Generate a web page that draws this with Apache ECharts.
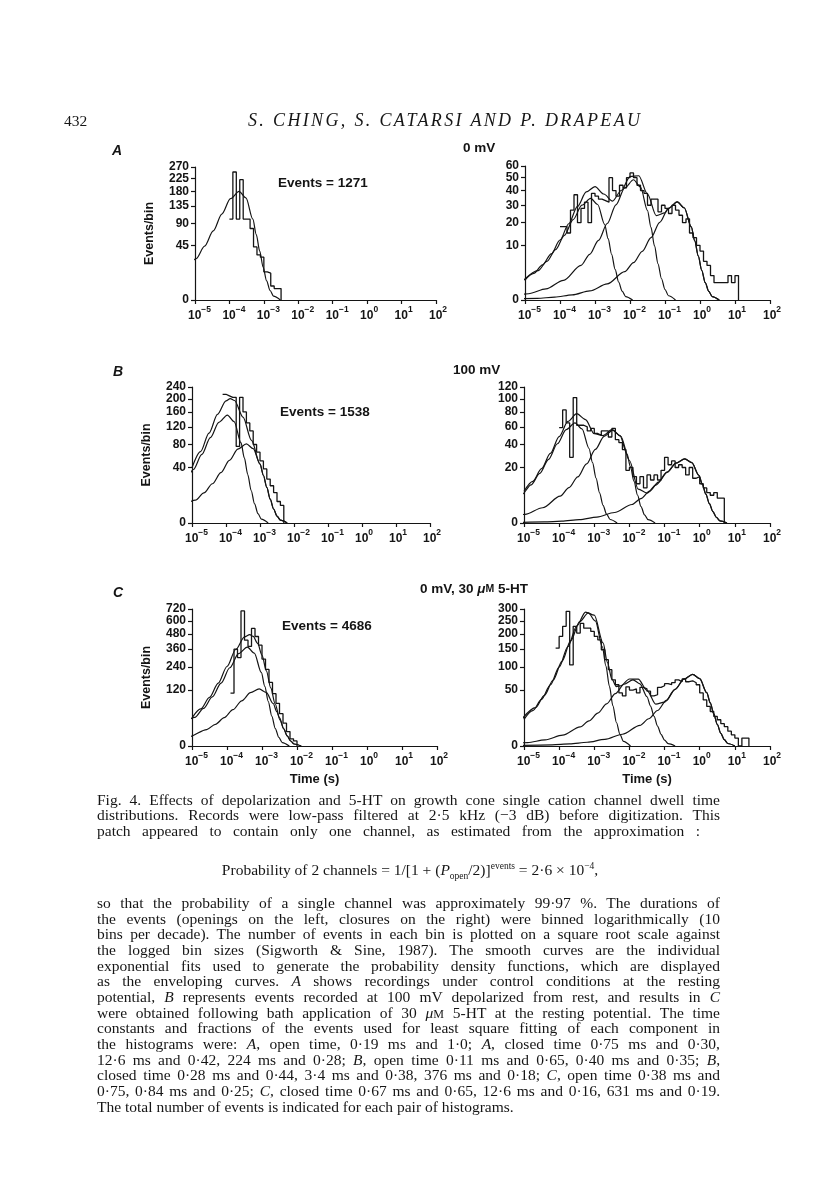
<!DOCTYPE html>
<html><head><meta charset="utf-8">
<script src="https://cdn.jsdelivr.net/npm/echarts@6/dist/echarts.min.js"></script>
<style>
html,body{margin:0;padding:0;background:#fff;}
#page{position:relative;width:816px;height:1200px;overflow:hidden;background:#fff;}
#chart{position:absolute;left:0;top:0;width:816px;height:1200px;}
.t{position:absolute;font-family:"Liberation Serif","Times New Roman",serif;color:#161616;white-space:nowrap;line-height:16px;}
.t span.in{display:inline-block;white-space:nowrap;}
.sc{font-size:0.78em;}
</style></head>
<body><div id="page"><div id="chart"></div>
<div class="t" style="left:64px;top:113px;font-size:15.5px;">432</div>
<div class="t fit" data-w="392" data-ls="1" style="left:248px;top:112px;font-size:18px;font-style:italic;"><span class="in">S. CHING, S. CATARSI AND P. DRAPEAU</span></div>

<div class="t cap fit" data-w="623" style="left:97px;top:792px;"><span class="in">Fig. 4. Effects of depolarization and 5-HT on growth cone single cation channel dwell time</span></div>
<div class="t cap fit" data-w="623" style="left:97px;top:807px;"><span class="in">distributions. Records were low-pass filtered at 2·5 kHz (−3 dB) before digitization. This</span></div>
<div class="t cap fit" data-w="603" style="left:97px;top:823px;"><span class="in">patch appeared to contain only one channel, as estimated from the approximation :</span></div>
<div class="t cap" style="left:0px;width:820px;text-align:center;top:856px;line-height:20px;">Probability of 2 channels = 1/[1 + (<i>P</i><sub style="font-size:9.5px;">open</sub>/2)]<sup style="font-size:9.5px;">events</sup> = 2·6 × 10<sup style="font-size:9.5px;">−4</sup>,</div>

<div class="t cap fit" data-w="623" style="left:97px;top:895px;"><span class="in">so that the probability of a single channel was approximately 99·97 %. The durations of</span></div>
<div class="t cap fit" data-w="623" style="left:97px;top:911px;"><span class="in">the events (openings on the left, closures on the right) were binned logarithmically (10</span></div>
<div class="t cap fit" data-w="623" style="left:97px;top:926px;"><span class="in">bins per decade). The number of events in each bin is plotted on a square root scale against</span></div>
<div class="t cap fit" data-w="623" style="left:97px;top:942px;"><span class="in">the logged bin sizes (Sigworth &amp; Sine, 1987). The smooth curves are the individual</span></div>
<div class="t cap fit" data-w="623" style="left:97px;top:958px;"><span class="in">exponential fits used to generate the probability density functions, which are displayed</span></div>
<div class="t cap fit" data-w="623" style="left:97px;top:973px;"><span class="in">as the enveloping curves. <i>A</i> shows recordings under control conditions at the resting</span></div>
<div class="t cap fit" data-w="623" style="left:97px;top:989px;"><span class="in">potential, <i>B</i> represents events recorded at 100 mV depolarized from rest, and results in <i>C</i></span></div>
<div class="t cap fit" data-w="623" style="left:97px;top:1005px;"><span class="in">were obtained following bath application of 30 <i>μ</i><span class="sc">M</span> 5-HT at the resting potential. The time</span></div>
<div class="t cap fit" data-w="623" style="left:97px;top:1020px;"><span class="in">constants and fractions of the events used for least square fitting of each component in</span></div>
<div class="t cap fit" data-w="623" style="left:97px;top:1036px;"><span class="in">the histograms were: <i>A</i>, open time, 0·19 ms and 1·0; <i>A</i>, closed time 0·75 ms and 0·30,</span></div>
<div class="t cap fit" data-w="623" style="left:97px;top:1052px;"><span class="in">12·6 ms and 0·42, 224 ms and 0·28; <i>B</i>, open time 0·11 ms and 0·65, 0·40 ms and 0·35; <i>B</i>,</span></div>
<div class="t cap fit" data-w="623" style="left:97px;top:1067px;"><span class="in">closed time 0·28 ms and 0·44, 3·4 ms and 0·38, 376 ms and 0·18; <i>C</i>, open time 0·38 ms and</span></div>
<div class="t cap fit" data-w="623" style="left:97px;top:1083px;"><span class="in">0·75, 0·84 ms and 0·25; <i>C</i>, closed time 0·67 ms and 0·65, 12·6 ms and 0·16, 631 ms and 0·19.</span></div>
<div class="t cap" style="left:97px;top:1099px;">The total number of events is indicated for each pair of histograms.</div>
</div>
<script>
// ---------- DATA (x = log10 of dwell time in s; y = events per bin) ----------
const xExponents = [-5, -4, -3, -2, -1, 0, 1, 2];
const eventTotals = ['1271', '1538', '4686'];

// A: 0 mV, open times (left)
const A_openTicks = [0, 45, 90, 135, 180, 225, 270];
const A_openBinStart = -4.0;
const A_openCounts = [100, 250, 100, 221, 100, 100, 78, 43, 31, 28, 12, 11, 3, 2, 2];
const A_openFit = [[-5.22,15.0],[-4.97,26.0],[-4.72,44.3],[-4.47,72.8],[-4.22,112.8],[-3.97,156.8],[-3.72,180],[-3.52,158.9],[-3.32,99.7],[-3.22,65.5],[-3.12,36.4],[-3.02,16.3],[-2.92,5.62],[-2.82,1.38],[-2.72,0.22],[-2.52,0]];

// A: 0 mV, closed times (right)
const A_closedTicks = [0, 10, 20, 30, 40, 50, 60];
const A_closedBinStart = -4.0;
const A_closedCounts = [18,18,15,27,37,20,28,32,20,38,36,34,33,32,50,40,36,44,42,50,54,50,44,40,38,30,34,34,26,30,28,25,30,27,24,20,22,15,13,10,8,5,4,2,1,1,1,1,2,1,2];
const A_closedFit1 = [[-5.125,0.93],[-4.625,2.87],[-4.375,4.99],[-4.125,8.49],[-3.875,13.96],[-3.625,21.6],[-3.375,30.05],[-3.125,34.5],[-2.925,30.46],[-2.725,19.1],[-2.625,12.55],[-2.525,6.97],[-2.425,3.13],[-2.325,1.08],[-2.225,0.26],[-2.125,0.04],[-1.925,0]];
const A_closedFit2 = [[-5.4,0.041],[-4.9,0.131],[-4.4,0.414],[-3.9,1.3],[-3.4,4.02],[-3.15,6.98],[-2.9,11.88],[-2.65,19.55],[-2.4,30.26],[-2.15,42.07],[-1.9,48.3],[-1.7,42.65],[-1.5,26.75],[-1.4,17.58],[-1.3,9.76],[-1.2,4.38],[-1.1,1.51],[-1.0,0.37],[-0.9,0.06],[-0.7,0]];
const A_closedFit3 = [[-5.65,0.0009],[-4.65,0.0088],[-4.15,0.0277],[-3.65,0.0876],[-3.15,0.276],[-2.65,0.866],[-2.15,2.68],[-1.9,4.65],[-1.65,7.92],[-1.4,13.03],[-1.15,20.18],[-0.9,28.05],[-0.65,32.2],[-0.45,28.43],[-0.25,17.84],[-0.15,11.72],[-0.05,6.5],[0.05,2.92],[0.15,1.0],[0.25,0.25],[0.35,0.04],[0.55,0]];
const A_closedSum = [[-5,1.34],[-4.75,2.36],[-4.5,4.13],[-4.25,7.13],[-4,12.02],[-3.75,19.44],[-3.5,29.28],[-3.25,39.05],[-3,42.98],[-2.75,37.55],[-2.5,32.71],[-2.25,40.05],[-2,50.87],[-1.75,51.59],[-1.5,37.49],[-1.25,23.84],[-1,25.38],[-0.9,28.1],[-0.65,32.2],[-0.45,28.43],[-0.25,17.84],[-0.15,11.72],[-0.05,6.5],[0.05,2.92],[0.15,1.0],[0.25,0.25],[0.35,0.04],[0.55,0]];

// B: 100 mV, open times (left)
const B_openTicks = [0, 40, 80, 120, 160, 200, 240];
const B_openBinStart = -4.1;
const B_openCounts = [215,210,205,205,76,205,160,130,110,80,65,50,38,25,18,12,6,4];
const B_openFit1 = [[-5.46,12.58],[-5.21,21.82],[-4.96,37.15],[-4.71,61.11],[-4.46,94.62],[-4.21,131.5],[-3.96,151],[-3.76,133.3],[-3.56,83.64],[-3.46,54.95],[-3.36,30.5],[-3.26,13.7],[-3.16,4.71],[-3.06,1.16],[-2.96,0.19],[-2.76,0]];
const B_openFit2 = [[-5.4,2.19],[-4.9,6.77],[-4.65,11.75],[-4.4,20.0],[-4.15,32.9],[-3.9,50.94],[-3.65,70.82],[-3.4,81.3],[-3.2,71.79],[-3.0,45.03],[-2.9,29.59],[-2.8,16.42],[-2.7,7.37],[-2.6,2.54],[-2.5,0.62],[-2.4,0.1],[-2.2,0]];
const B_openSum = [[-5,39.6],[-4.75,66.0],[-4.5,104.9],[-4.25,153.2],[-4,193.6],[-3.875,200.8],[-3.75,194.7],[-3.5,145.5],[-3.25,88.5],[-3,45.4],[-2.9,29.6],[-2.8,16.42],[-2.7,7.37],[-2.6,2.54],[-2.5,0.62],[-2.4,0.1],[-2.2,0]];

// B: 100 mV, closed times (right)
const B_closedTicks = [0, 20, 40, 60, 80, 100, 120];
const B_closedBinStart = -4.0;
const B_closedCounts = [59,83,65,28,102,62,62,60,55,58,52,50,55,55,48,58,45,42,35,18,20,14,10,14,8,15,12,15,12,18,28,22,25,20,22,20,15,20,13,14,10,8,6,5,6,4,4];
const B_closedFit1 = [[-5.55,1.75],[-5.05,5.41],[-4.8,9.39],[-4.55,15.99],[-4.3,26.31],[-4.05,40.73],[-3.8,56.62],[-3.55,65],[-3.35,57.4],[-3.15,36.0],[-3.05,23.65],[-2.95,13.13],[-2.85,5.9],[-2.75,2.03],[-2.65,0.5],[-2.55,0.08],[-2.35,0]];
const B_closedFit2 = [[-5.47,0.152],[-4.97,0.48],[-4.47,1.51],[-3.97,4.66],[-3.72,8.09],[-3.47,13.78],[-3.22,22.66],[-2.97,35.09],[-2.72,48.78],[-2.47,56],[-2.27,49.45],[-2.07,31.02],[-1.97,20.38],[-1.87,11.31],[-1.77,5.08],[-1.67,1.75],[-1.57,0.43],[-1.47,0.07],[-1.27,0]];
const B_closedFit3 = [[-5.425,0.0007],[-4.425,0.0073],[-3.925,0.0229],[-3.425,0.0726],[-2.925,0.229],[-2.425,0.718],[-1.925,2.22],[-1.675,3.86],[-1.425,6.57],[-1.175,10.81],[-0.925,16.73],[-0.675,23.26],[-0.425,26.7],[-0.225,23.58],[-0.025,14.79],[0.075,9.72],[0.175,5.39],[0.275,2.42],[0.375,0.83],[0.475,0.2],[0.575,0.03],[0.775,0]];
const B_closedSum = [[-5,6.5],[-4.75,11.26],[-4.5,19.13],[-4.25,31.37],[-4,48.4],[-3.75,66.9],[-3.5,77.56],[-3.25,69.43],[-3,51.67],[-2.75,49.63],[-2.5,56.53],[-2.25,49.12],[-2,25.36],[-1.75,7.47],[-1.5,5.77],[-1.25,9.35],[-0.925,16.73],[-0.675,23.26],[-0.425,26.7],[-0.225,23.58],[-0.025,14.79],[0.075,9.72],[0.175,5.39],[0.275,2.42],[0.375,0.83],[0.475,0.2],[0.575,0.03],[0.775,0]];

// C: 0 mV + 30 uM 5-HT, open times (left)
const C_openTicks = [0, 120, 240, 360, 480, 600, 720];
const C_openBinStart = -3.9;
const C_openCounts = [107,360,300,700,430,380,530,460,390,290,225,155,105,70,40,20,8,2,1];
const C_openFit1 = [[-5.42,10.09],[-4.92,31.23],[-4.67,54.19],[-4.42,92.25],[-4.17,151.8],[-3.92,235.0],[-3.67,326.7],[-3.42,375],[-3.22,331.1],[-3.02,207.7],[-2.92,136.5],[-2.82,75.75],[-2.72,34.01],[-2.62,11.7],[-2.52,2.88],[-2.42,0.46],[-2.22,0]];
const C_openFit2 = [[-5.58,1.07],[-5.08,3.36],[-4.58,10.41],[-4.33,18.06],[-4.08,30.75],[-3.83,50.59],[-3.58,78.33],[-3.33,108.9],[-3.08,125],[-2.88,110.4],[-2.68,69.24],[-2.58,45.49],[-2.48,25.25],[-2.38,11.34],[-2.28,3.9],[-2.18,0.96],[-2.08,0.15],[-1.88,0]];
const C_openSum = [[-5,30.3],[-4.75,52.6],[-4.5,90.4],[-4.25,151.6],[-4,242.3],[-3.75,357.4],[-3.5,457.4],[-3.35,476.6],[-3.25,460.3],[-3.125,404.2],[-3,316],[-2.875,216.7],[-2.75,129.9],[-2.625,68.4],[-2.5,30.9],[-2.38,11.4],[-2.28,3.9],[-2.18,0.96],[-2.08,0.15],[-1.88,0]];

// C: 0 mV + 30 uM 5-HT, closed times (right)
const C_closedTicks = [0, 50, 100, 150, 200, 250, 300];
const C_closedBinStart = -4.1;
const C_closedCounts = [153,192,229,290,105,229,204,240,222,222,210,192,180,148,119,93,70,60,45,40,56,50,52,45,55,52,48,40,42,55,58,62,60,64,70,66,72,66,68,64,60,45,34,25,19,14,11,8,6,3.5,2,1,0,1,1];
const C_closedFit1 = [[-5.17,7.62],[-4.67,23.57],[-4.42,40.9],[-4.17,69.6],[-3.92,114.5],[-3.67,177.3],[-3.42,246.5],[-3.17,283],[-2.97,249.9],[-2.77,156.8],[-2.67,103.0],[-2.57,57.2],[-2.47,25.7],[-2.37,8.83],[-2.27,2.17],[-2.17,0.35],[-1.97,0]];
const C_closedFit2 = [[-5.4,0.06],[-4.9,0.19],[-4.4,0.6],[-3.9,1.88],[-3.4,5.83],[-3.15,10.12],[-2.9,17.22],[-2.65,28.33],[-2.4,43.86],[-2.15,60.98],[-1.9,70],[-1.7,61.81],[-1.5,38.77],[-1.4,25.47],[-1.3,14.14],[-1.2,6.35],[-1.1,2.18],[-1.0,0.54],[-0.9,0.09],[-0.7,0]];
const C_closedFit3 = [[-5.2,0.0022],[-4.2,0.0223],[-3.7,0.0704],[-3.2,0.223],[-2.7,0.703],[-2.2,2.21],[-1.7,6.83],[-1.45,11.85],[-1.2,20.17],[-0.95,33.19],[-0.7,51.38],[-0.45,71.43],[-0.2,82],[0,72.41],[0.2,45.42],[0.3,29.84],[0.4,16.56],[0.5,7.44],[0.6,2.56],[0.7,0.63],[0.8,0.1],[1.0,0]];
const C_closedSum = [[-5,11.36],[-4.75,19.98],[-4.5,34.81],[-4.25,59.76],[-4,99.68],[-3.75,158.2],[-3.5,230.2],[-3.25,286.8],[-3,273.5],[-2.75,169.8],[-2.625,111.3],[-2.5,71.74],[-2.375,56.5],[-2.25,57.9],[-2,71.79],[-1.75,71.57],[-1.5,49.4],[-1.25,27.94],[-1,30.69],[-0.7,51.38],[-0.45,71.43],[-0.2,82],[0,72.41],[0.2,45.42],[0.3,29.84],[0.4,16.56],[0.5,7.44],[0.6,2.56],[0.7,0.63],[0.8,0.1],[1.0,0]];

// ---------- LAYOUT ----------
const INK = '#141414';
const AX_FONT = '"Liberation Sans", Arial, Helvetica, sans-serif';
const panels = [
  {grid:{left:195, top:167, width:241, height:133}, ticks:A_openTicks, start:A_openBinStart, counts:A_openCounts, fits:[A_openFit], yName:true, xName:false},
  {grid:{left:525, top:166, width:245, height:134}, ticks:A_closedTicks, start:A_closedBinStart, counts:A_closedCounts, fits:[A_closedSum, A_closedFit1, A_closedFit2, A_closedFit3], yName:false, xName:false},
  {grid:{left:192, top:387, width:238, height:136}, ticks:B_openTicks, start:B_openBinStart, counts:B_openCounts, fits:[B_openSum, B_openFit1, B_openFit2], yName:true, xName:false},
  {grid:{left:524, top:387, width:246, height:136}, ticks:B_closedTicks, start:B_closedBinStart, counts:B_closedCounts, fits:[B_closedSum, B_closedFit1, B_closedFit2, B_closedFit3], yName:false, xName:false},
  {grid:{left:192, top:609, width:245, height:137}, ticks:C_openTicks, start:C_openBinStart, counts:C_openCounts, fits:[C_openSum, C_openFit1, C_openFit2], yName:true, xName:true},
  {grid:{left:524, top:609, width:246, height:137}, ticks:C_closedTicks, start:C_closedBinStart, counts:C_closedCounts, fits:[C_closedSum, C_closedFit1, C_closedFit2, C_closedFit3], yName:false, xName:true}
];

const sq = v => Math.sqrt(Math.max(0, v));
function histData(start, counts) {
  const pts = counts.map((c, i) => [start + i * 0.1, sq(c)]);
  const end = start + counts.length * 0.1;
  pts.push([end, sq(counts[counts.length - 1])]);
  pts.push([end, 0]);
  return pts;
}
const fitData = pairs => pairs.map(p => [p[0], sq(p[1])]);

const grids = [], xAxes = [], yAxes = [], yLabelAxes = [], series = [];
const yLabelStyle = {color:INK, fontSize:12, fontWeight:'bold', fontFamily:AX_FONT, margin:6, showMinLabel:true, showMaxLabel:true, hideOverlap:false};
panels.forEach((p, i) => {
  grids.push(Object.assign({containLabel:false}, p.grid));
  xAxes.push({
    gridIndex:i, type:'value', min:xExponents[0], max:xExponents[xExponents.length-1], interval:1,
    axisLine:{show:true, onZero:false, lineStyle:{color:INK, width:1.2}},
    axisTick:{show:true, length:4, lineStyle:{color:INK, width:1.2}},
    splitLine:{show:false},
    axisLabel:{margin:5, color:INK, showMinLabel:true, showMaxLabel:true, hideOverlap:false,
      formatter: v => { const n = Math.round(v); const e = n < 0 ? '\u2212' + (-n) : String(n);
        return '{' + (n < 0 ? 'pn' : 'pp') + '| }{b|10}{s|' + e + '}'; },
      rich:{
        b:{fontSize:12, fontWeight:'bold', fontFamily:AX_FONT, color:INK, lineHeight:17, verticalAlign:'bottom'},
        s:{fontSize:8.5, fontWeight:'bold', fontFamily:AX_FONT, color:INK, lineHeight:10, verticalAlign:'top'},
        pn:{width:9, fontSize:8}, pp:{width:4, fontSize:8}
      }},
    name: p.xName ? 'Time (s)' : '', nameLocation:'middle', nameGap:27,
    nameTextStyle:{fontSize:13, fontWeight:'bold', fontFamily:AX_FONT, color:INK}
  });
  const sv = p.ticks.map(Math.sqrt);
  const labelOf = v => { let best = 0; p.ticks.forEach((t, k) => { if (Math.abs(Math.sqrt(t) - v) < Math.abs(Math.sqrt(p.ticks[best]) - v)) best = k; }); return String(p.ticks[best]); };
  // main axis: line, ticks and the even-indexed labels (square-root scale)
  yAxes.push({
    gridIndex:i, type:'value', min:0, max:sv[sv.length-1],
    axisLine:{show:true, onZero:false, lineStyle:{color:INK, width:1.2}},
    axisTick:{show:true, length:4, customValues:sv, lineStyle:{color:INK, width:1.2}},
    splitLine:{show:false},
    axisLabel:Object.assign({}, yLabelStyle, {customValues:sv.filter((v, k) => k % 2 === 0), formatter:labelOf}),
    name: p.yName ? 'Events/bin' : '', nameLocation:'middle', nameRotate:90, nameGap:39,
    nameTextStyle:{fontSize:12.5, fontWeight:'bold', fontFamily:AX_FONT, color:INK}
  });
  // companion axis on the same scale carrying the odd-indexed labels (so tightly stacked labels are all kept)
  yLabelAxes.push({
    gridIndex:i, type:'value', min:0, max:sv[sv.length-1], position:'left', offset:0,
    axisLine:{show:false, onZero:false}, axisTick:{show:false}, splitLine:{show:false},
    axisLabel:Object.assign({}, yLabelStyle, {customValues:sv.filter((v, k) => k % 2 === 1), formatter:labelOf})
  });
  series.push({type:'line', xAxisIndex:i, yAxisIndex:i, data:histData(p.start, p.counts), step:'end',
    symbol:'none', showSymbol:false, silent:true, lineStyle:{color:INK, width:1.3}, z:3});
  p.fits.forEach(f => series.push({type:'line', xAxisIndex:i, yAxisIndex:i, data:fitData(f), smooth:0.3, smoothMonotone:'x',
    symbol:'none', showSymbol:false, silent:true, lineStyle:{color:INK, width:1.2}, z:2}));
});

const TXT = {fill:INK, font:'bold 13.5px ' + AX_FONT, verticalAlign:'middle'};
const graphic = [
  {type:'text', x:112, y:151, style:Object.assign({}, TXT, {text:'A', font:'italic bold 14px ' + AX_FONT})},
  {type:'text', x:113, y:372, style:Object.assign({}, TXT, {text:'B', font:'italic bold 14px ' + AX_FONT})},
  {type:'text', x:113, y:593, style:Object.assign({}, TXT, {text:'C', font:'italic bold 14px ' + AX_FONT})},
  {type:'text', x:463, y:148, style:Object.assign({}, TXT, {text:'0 mV'})},
  {type:'text', x:453, y:370, style:Object.assign({}, TXT, {text:'100 mV'})},
  {type:'text', x:420, y:589, style:Object.assign({}, TXT, {text:'0 mV, 30 {i|μ}{m|M} 5-HT',
     rich:{i:{font:'italic bold 13.5px ' + AX_FONT, fill:INK}, m:{font:'bold 10.5px ' + AX_FONT, fill:INK}}})},
  {type:'text', x:278, y:183, style:Object.assign({}, TXT, {text:'Events = ' + eventTotals[0]})},
  {type:'text', x:280, y:412, style:Object.assign({}, TXT, {text:'Events = ' + eventTotals[1]})},
  {type:'text', x:282, y:626, style:Object.assign({}, TXT, {text:'Events = ' + eventTotals[2]})}
];

const chart = echarts.init(document.getElementById('chart'), null, {renderer:'canvas', width:816, height:1200});
chart.setOption({animation:false, backgroundColor:'transparent', grid:grids, xAxis:xAxes, yAxis:yAxes.concat(yLabelAxes), series:series, graphic:graphic});

// caption: one common font size so that the longest line fits, then justify with word spacing
const caps = [...document.querySelectorAll('.cap')];
let fs = 15.5;
caps.forEach(el => el.style.fontSize = fs + 'px');
let maxRatio = 0;
caps.forEach(el => { if (!el.dataset.w) return; const w = el.querySelector('.in').getBoundingClientRect().width; maxRatio = Math.max(maxRatio, w / +el.dataset.w); });
if (maxRatio > 0.99) { fs = fs * 0.99 / maxRatio; caps.forEach(el => el.style.fontSize = fs + 'px'); }
document.querySelectorAll('.fit').forEach(el => {
  const target = +el.dataset.w;
  const span = el.querySelector('.in');
  const w = span.getBoundingClientRect().width;
  if (w >= target) return;
  if (el.dataset.ls) { span.style.letterSpacing = ((target - w) / (span.textContent.length - 1)) + 'px'; return; }
  const spaces = (span.textContent.match(/ /g) || []).length;
  if (spaces > 0) span.style.wordSpacing = ((target - w) / spaces) + 'px';
});
</script>
</body></html>
